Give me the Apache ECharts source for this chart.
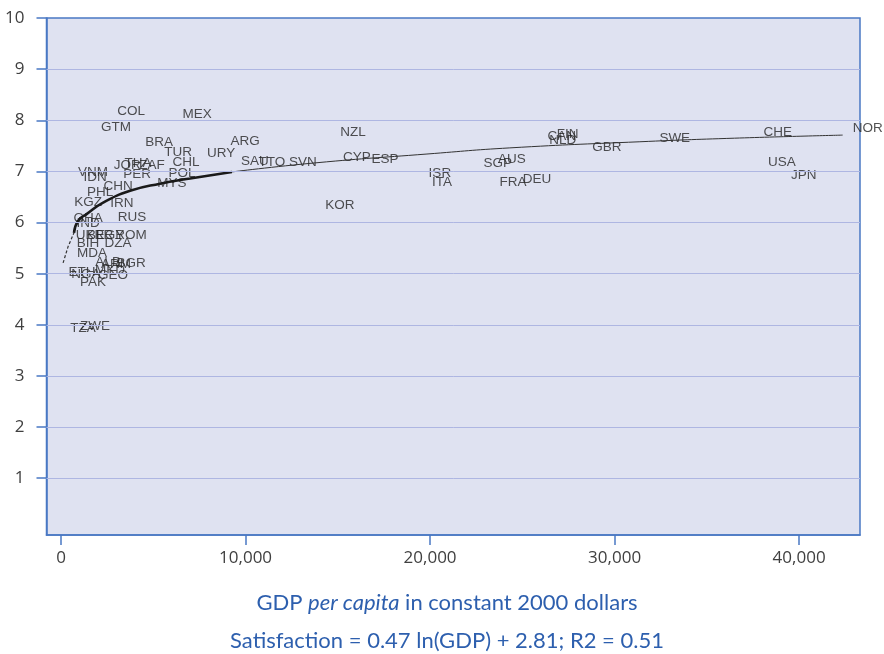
<!DOCTYPE html>
<html>
<head>
<meta charset="utf-8">
<script src="https://cdn.jsdelivr.net/npm/echarts@6/dist/echarts.min.js"></script>
<style>html,body{margin:0;padding:0;background:#fff}#c{width:884px;height:654px}</style>
</head>
<body>
<div id="c"></div>
<script>
// ---- data ----
const countries = ['COL','MEX','GTM','BRA','TUR','CHL','ARG','URY','SAU','TTO','SVN','NZL','CYP','ESP','KOR',
  'ISR','ITA','SGP','AUS','FRA','DEU','CAN','FIN','NLD','GBR','SWE','CHE','NOR','USA','JPN',
  'VNM','IDN','JOR','THA','ZAF','PER','POL','MYS','CHN','PHL','KGZ','IRN','RUS','GHA','IND',
  'UKR','BLR','EGY','ROM','BIH','DZA','MDA','ALB','ARM','BGR','ETH','NGA','GEO','MKD','PAK','ZWE','TZA'];
const gdpPerCapita = [3790,7370,2980,5310,6340,6770,9970,8670,10510,11430,13110,15820,16030,17550,15110,
  20530,20640,23670,24430,24490,25790,27140,27460,27190,29580,33260,38840,43720,39060,40250,
  1730,1840,3580,4170,4930,4120,6550,6010,3090,2110,1460,3300,3850,1460,1460,
  1570,2110,2650,3790,1460,3090,1680,2550,2980,3790,1140,1350,2820,2650,1730,1840,1190];
const satisfaction = [8.18,8.12,7.87,7.57,7.38,7.18,7.59,7.36,7.20,7.18,7.18,7.77,7.28,7.24,6.34,
  6.97,6.79,7.16,7.24,6.79,6.85,7.69,7.73,7.61,7.48,7.65,7.77,7.85,7.18,6.93,
  6.99,6.89,7.12,7.16,7.12,6.95,6.97,6.77,6.71,6.59,6.40,6.38,6.11,6.09,5.99,
  5.75,5.75,5.75,5.75,5.60,5.60,5.40,5.22,5.19,5.20,5.03,4.99,4.97,5.07,4.83,3.97,3.93];

// fitted curve, points
const fitStartGdp = [110, 380, 700];
const fitStartSat = [5.21, 5.53, 5.80];
const fitThickGdp = [700, 920, 1400, 2280, 3740, 5360, 6990, 9260];
const fitThickSat = [5.80, 6.03, 6.17, 6.39, 6.62, 6.76, 6.86, 6.99];
const fitThinGdp = [9260, 13870, 19830, 24320, 31370, 36500, 42360];
const fitThinSat = [6.99, 7.17, 7.34, 7.46, 7.58, 7.65, 7.71];

const xTicks = [0, 10000, 20000, 30000, 40000];
const yTicks = [1, 2, 3, 4, 5, 6, 7, 8, 9, 10];
const yGridLines = [1, 2, 3, 4, 5, 6, 7, 8, 9];

const pts = countries.map((c, i) => [gdpPerCapita[i], satisfaction[i], c]);
const zip = (a, b) => a.map((v, i) => [v, b[i]]);

const blue = '#4a78c4';
const tickFont = "'Liberation Sans Narrow', 'Open Sans', sans-serif";
const chart = echarts.init(document.getElementById('c'));
chart.setOption({
  animation: false,
  title: {
    left: 442, top: 579, textAlign: 'center',
    text: '{n|GDP }{i|per capita}{n| in constant 2000 dollars}\n{n|Satisfaction = 0.47 ln(GDP) + 2.81; R2 = 0.51}',
    textStyle: {
      fontWeight: 'normal',
      rich: {
        n: {fontFamily: 'Lato', fontWeight: 'normal', fontSize: 22, color: '#2d5fae', lineHeight: 38},
        i: {fontFamily: 'Lato', fontWeight: 'normal', fontStyle: 'italic', fontSize: 22, color: '#2d5fae', lineHeight: 38}
      }
    }
  },
  grid: {
    left: 46.5, right: 24, top: 18, bottom: 119,
    show: true, backgroundColor: '#dfe2f1', borderColor: blue, borderWidth: 1.5,
    outerBoundsMode: 'none'
  },
  xAxis: {
    type: 'value', min: -790, max: 43300,
    axisLine: {show: true, onZero: false, lineStyle: {color: blue, width: 1.5}},
    axisTick: {show: true, length: 10, customValues: xTicks, lineStyle: {color: blue, width: 1.5}},
    axisLabel: {customValues: xTicks, margin: 15, color: '#404040', fontSize: 17, fontFamily: tickFont,
      formatter: v => v.toLocaleString('en-US')},
    splitLine: {show: false}
  },
  yAxis: {
    type: 'value', min: -0.11, max: 10,
    axisLine: {show: true, onZero: false, lineStyle: {color: blue, width: 1.5}},
    axisTick: {show: true, length: 10, customValues: yTicks, lineStyle: {color: blue, width: 1.5}},
    axisLabel: {customValues: yTicks, margin: 22, color: '#404040', fontSize: 17, fontFamily: tickFont},
    splitLine: {show: false}
  },
  series: [
    {
      type: 'line', data: zip(fitStartGdp, fitStartSat), showSymbol: false, silent: true,
      lineStyle: {color: '#333', width: 1.2, type: [3, 2]},
      markLine: {
        silent: true, symbol: 'none', label: {show: false}, animation: false,
        lineStyle: {color: '#aeb6e2', width: 1, type: 'solid'},
        data: yGridLines.map(v => ({yAxis: v}))
      }
    },
    {type: 'line', data: zip(fitThickGdp, fitThickSat), showSymbol: false, smooth: true, silent: true,
      lineStyle: {color: '#1a1a1a', width: 2.6}},
    {type: 'line', data: zip(fitThinGdp, fitThinSat), showSymbol: false, smooth: true, silent: true,
      lineStyle: {color: '#333', width: 1}},
    {
      type: 'scatter', data: pts, symbolSize: 1, clip: false, silent: true,
      itemStyle: {color: 'rgba(0,0,0,0)'},
      label: {show: true, position: 'inside', formatter: p => p.data[2],
        color: '#262626', fontSize: 13.5, fontFamily: 'Liberation Sans'}
    }
  ]
});
</script>
</body>
</html>
